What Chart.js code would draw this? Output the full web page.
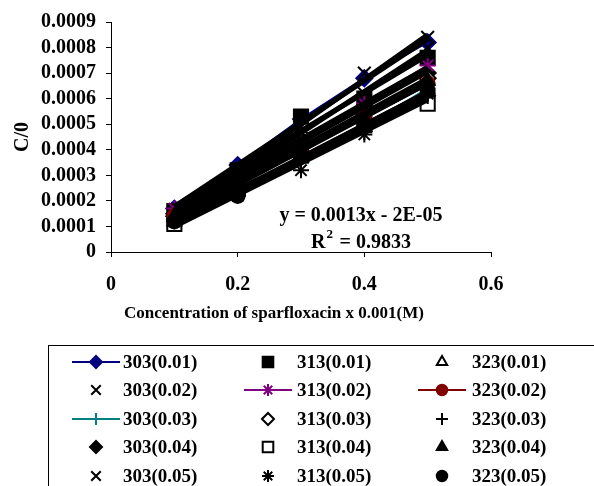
<!DOCTYPE html>
<html>
<head>
<meta charset="utf-8">
<script src="https://cdn.jsdelivr.net/npm/chart.js@4.4.1/dist/chart.umd.min.js"></script>
<style>
  html, body { margin: 0; padding: 0; background: #fff; }
  #wrap { width: 594px; height: 486px; }
</style>
</head>
<body>
<div id="wrap"><canvas id="chart" width="594" height="486"></canvas></div>
<script>
// C/theta vs sparfloxacin concentration, three temperatures x five inhibitor levels

const concentrations = [0.1, 0.2, 0.3, 0.4, 0.5]
const xTicks         = [0, 0.2, 0.4, 0.6]
const yTicks         = [0, 0.0001, 0.0002, 0.0003, 0.0004, 0.0005, 0.0006, 0.0007, 0.0008, 0.0009]

const temps  = ['303', '313', '323']
const levels = ['0.01', '0.02', '0.03', '0.04', '0.05']

const t303_001 = [0.00017, 0.00034, 0.00052, 0.00068, 0.00082]
const t303_002 = [0.00016, 0.00031, 0.00049, 0.00070, 0.00084]
const t303_003 = [0.00013, 0.00022, 0.00035, 0.00049, 0.00064]
const t303_004 = [0.00015, 0.00029, 0.00044, 0.00057, 0.00070]
const t303_005 = [0.00015, 0.00030, 0.00046, 0.00062, 0.00080]

const t313_001 = [0.00016, 0.00032, 0.00053, 0.00060, 0.00076]
const t313_002 = [0.00017, 0.00030, 0.00043, 0.00058, 0.00073]
const t313_003 = [0.00014, 0.00028, 0.00041, 0.00054, 0.00068]
const t313_004 = [0.00011, 0.00025, 0.00038, 0.00050, 0.00058]
const t313_005 = [0.00012, 0.00022, 0.00032, 0.00046, 0.00062]

const t323_001 = [0.00012, 0.00024, 0.00037, 0.00049, 0.00063]
const t323_002 = [0.00014, 0.00027, 0.00040, 0.00053, 0.00066]
const t323_003 = [0.00012, 0.00023, 0.00035, 0.00047, 0.00061]
const t323_004 = [0.00014, 0.00026, 0.00039, 0.00052, 0.00067]
const t323_005 = [0.00012, 0.00022, 0.00038, 0.00049, 0.00063]

const seriesValues = [
  [t303_001, t303_002, t303_003, t303_004, t303_005],
  [t313_001, t313_002, t313_003, t313_004, t313_005],
  [t323_001, t323_002, t323_003, t323_004, t323_005]
]

// marker look per [temp][level]: style, colour, filled, with connecting line
const markerStyles = [
  [ ['rectRot', '#000080', true,  true ], ['crossRot', '#000', true, false], ['cross', '#008080', true, true ],
    ['rectRot', '#000',    true,  false], ['crossRot', '#000', true, false] ],
  [ ['rect',    '#000',    true,  false], ['star', '#800080', true, true ],  ['rectRot', '#000', false, false],
    ['rect',    '#000',    false, false], ['star', '#000',    true, false] ],
  [ ['triangle', '#000',   false, false], ['circle', '#800000', true, true ], ['cross', '#000', true, false],
    ['triangle', '#000',   true,  false], ['circle', '#000',    true, false] ]
]

const markerRadius = { rect: 10, rectRot: 8, triangle: 8, circle: 7, crossRot: 9, cross: 8, star: 8 }

const equationText = 'y = 0.0013x - 2E-05'
const rSquaredText = ' = 0.9833'
const xTitle       = 'Concentration of sparfloxacin x 0.001(M)'
const yTitle       = 'C/0'

const FONT = "'Liberation Serif', 'Times New Roman', serif"

function linearFit(xs, ys)
{
  const n  = xs.length
  const mx = xs.reduce((a, v) => a + v, 0) / n
  const my = ys.reduce((a, v) => a + v, 0) / n
  let sxy = 0, sxx = 0
  xs.forEach((x, i) => { sxy += (x - mx) * (ys[i] - my); sxx += (x - mx) * (x - mx) })
  const slope = sxy / sxx
  return { slope, intercept: my - slope * mx }
}

const dataSets  = []
const trendSets = []

temps.forEach((t, ti) => {
  levels.forEach((lv, li) => {
    const [style, color, filled, line] = markerStyles[ti][li]
    const ys = seriesValues[ti][li]

    dataSets.push({
      label:            `${t}(${lv})`,
      data:             concentrations.map((x, i) => ({ x, y: ys[i] })),
      showLine:         line,
      borderColor:      color,
      borderWidth:      2,
      pointStyle:       style,
      pointRadius:      markerRadius[style],
      pointBorderColor: color,
      pointBorderWidth: 2,
      pointBackgroundColor: filled ? color : '#fff',
      _line:            line
    })

    // black least-squares trendline over the measured range
    const fit = linearFit(concentrations, ys)
    const x0  = concentrations[0]
    const x1  = concentrations[concentrations.length - 1]
    trendSets.push({
      label:       `trend ${t}(${lv})`,
      data:        [{ x: x0, y: fit.slope * x0 + fit.intercept }, { x: x1, y: fit.slope * x1 + fit.intercept }],
      showLine:    true,
      borderColor: '#000',
      borderWidth: 5,
      pointRadius: 0
    })
  })
})

// legend grid, equation and x title are painted by hand
const extrasPlugin = {
  id: 'extras',
  afterDraw(chart)
  {
    const ctx = chart.ctx
    ctx.save()

    // trendline equation
    ctx.fillStyle    = '#000'
    ctx.font         = `bold 20px ${FONT}`
    ctx.textAlign    = 'center'
    ctx.textBaseline = 'middle'
    ctx.fillText(equationText, 361, 216)

    const rW  = ctx.measureText('R').width
    const eqW = ctx.measureText(rSquaredText).width
    const sup = 9
    const startX = 361 - (rW + sup + eqW) / 2
    ctx.textAlign = 'left'
    ctx.fillText('R', startX, 243)
    ctx.font = `bold 13px ${FONT}`
    ctx.fillText('2', startX + rW + 1, 235)
    ctx.font = `bold 20px ${FONT}`
    ctx.fillText(rSquaredText, startX + rW + sup, 243)

    // x axis title
    ctx.font      = `bold 17px ${FONT}`
    ctx.textAlign = 'center'
    ctx.fillText(xTitle, 274, 314)

    // legend box
    ctx.strokeStyle = '#000'
    ctx.lineWidth   = 1
    ctx.strokeRect(48.5, 345.5, 600, 200)

    const colLine = [72, 244, 418]
    const colText = [123, 297, 472]
    const rowY    = [362, 390, 419, 447, 476]

    ctx.font = `bold 19px ${FONT}`
    ctx.textAlign = 'left'
    temps.forEach((t, ti) => {
      levels.forEach((lv, li) => {
        const ds = dataSets[ti * levels.length + li]
        const y  = rowY[li]
        const cx = colLine[ti] + 24
        if( ds._line )
        {
          ctx.strokeStyle = ds.borderColor
          ctx.lineWidth   = 2
          ctx.beginPath()
          ctx.moveTo(colLine[ti], y)
          ctx.lineTo(colLine[ti] + 48, y)
          ctx.stroke()
        }
        ctx.strokeStyle = ds.pointBorderColor
        ctx.fillStyle   = ds.pointBackgroundColor
        ctx.lineWidth   = 2
        Chart.helpers.drawPoint(ctx, { pointStyle: ds.pointStyle, radius: ds.pointRadius * 0.75, rotation: 0, borderWidth: 2 }, cx, y)
        ctx.fillStyle = '#000'
        ctx.fillText(ds.label, colText[ti], y + 1)
      })
    })

    ctx.restore()
  }
}

new Chart(document.getElementById('chart'), {
  type: 'scatter',
  // first dataset paints top-most: trendlines over everything, later series over earlier ones
  data: { datasets: [...trendSets, ...dataSets.slice().reverse()] },
  options: {
    responsive: false,
    animation:  false,
    layout: { padding: { left: 0, top: 18, right: 103, bottom: 154 } },
    plugins: {
      legend:  { display: false },
      tooltip: { enabled: false }
    },
    scales: {
      x: {
        type: 'linear',
        min:  xTicks[0],
        max:  xTicks[xTicks.length - 1],
        afterBuildTicks: (scale) => { scale.ticks = xTicks.map(v => ({ value: v })) },
        afterFit: (scale) => { scale.height = 80 },
        grid:   { display: true, drawOnChartArea: false, drawTicks: true, tickLength: 5, color: '#000' },
        border: { display: true, color: '#000', width: 1 },
        ticks: {
          autoSkip: false,
          maxRotation: 0,
          padding: 16,
          color: '#000',
          font: { family: FONT, size: 20, weight: 'bold' },
          callback: (v) => v === 0 ? '0' : String(+v.toFixed(1))
        }
      },
      y: {
        min:  yTicks[0],
        max:  yTicks[yTicks.length - 1],
        afterBuildTicks: (scale) => { scale.ticks = yTicks.map(v => ({ value: v })) },
        afterFit: (scale) => { scale.width = 111 },
        grid:   { display: true, drawOnChartArea: false, drawTicks: true, tickLength: 5, color: '#000' },
        border: { display: true, color: '#000', width: 1 },
        title: {
          display: true,
          text:    yTitle,
          color:   '#000',
          padding: { top: 11, bottom: 0 },
          font:    { family: FONT, size: 20, weight: 'bold' }
        },
        ticks: {
          autoSkip: false,
          padding: 10,
          color: '#000',
          font: { family: FONT, size: 20, weight: 'bold' },
          callback: (v) => v === 0 ? '0' : v.toFixed(4)
        }
      }
    }
  },
  plugins: [extrasPlugin]
})
</script>
</body>
</html>
